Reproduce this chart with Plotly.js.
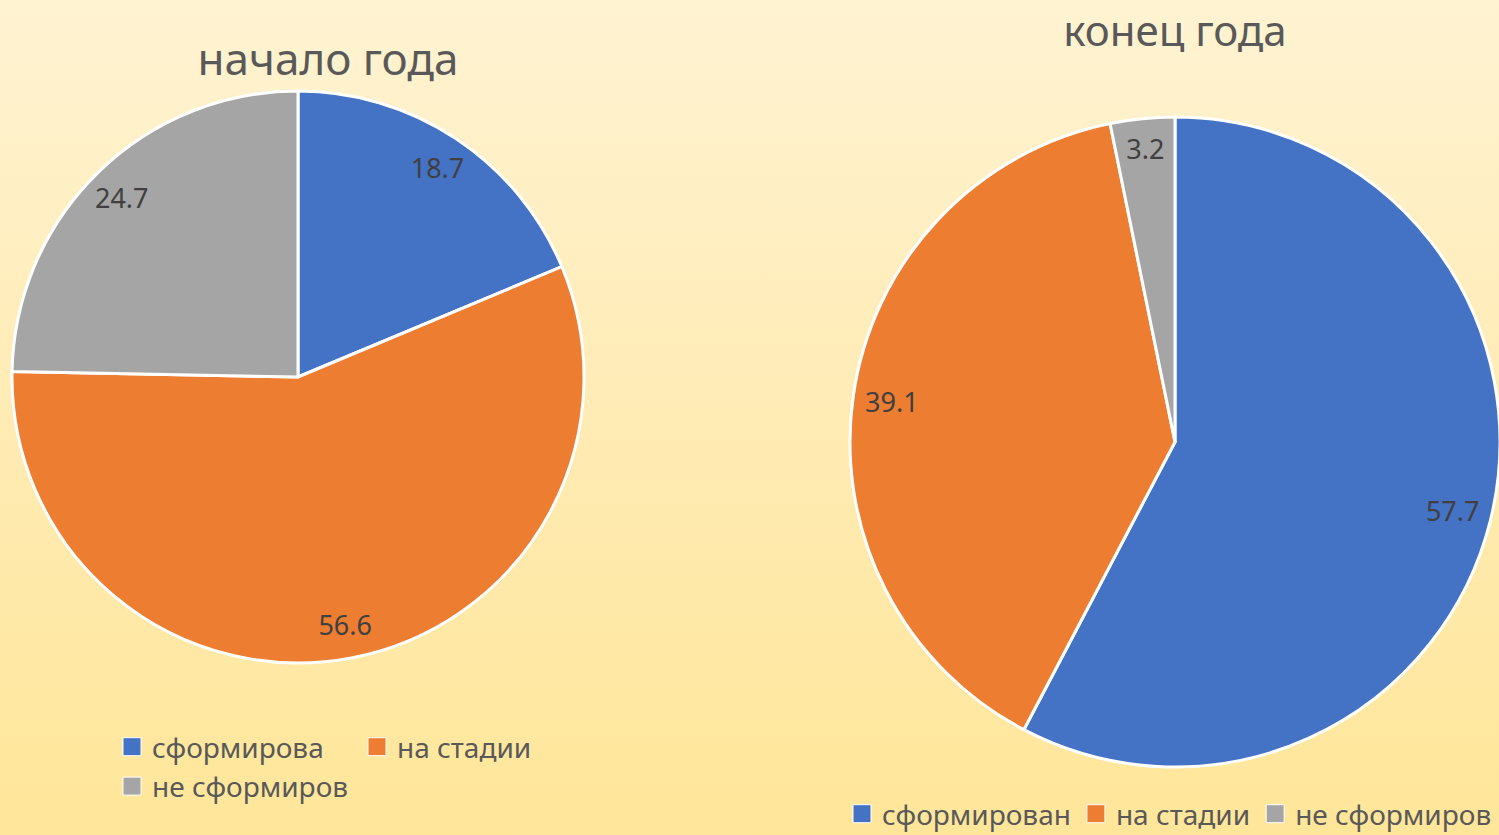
<!DOCTYPE html>
<html><head><meta charset="utf-8">
<script src="https://cdn.plot.ly/plotly-3.0.1.min.js"></script>
<style>
html,body{margin:0;padding:0;width:1499px;height:835px;overflow:hidden;}
body{background:linear-gradient(to bottom,#FFF3D2 0%,#FFEBB4 50%,#FFE699 100%);position:relative;}
#left{position:absolute;left:0;top:0;width:700px;height:835px;}
#right{position:absolute;left:745px;top:0;width:760px;height:870px;}
</style></head>
<body>
<div id="left"></div><div id="right"></div>
<script>
const labelsStart = ["сформирова", "на стадии", "не сформиров"];
const valuesStart = [18.7, 56.6, 24.7];
const labelsEnd = ["сформирован", "на стадии", "не сформиров"];
const valuesEnd = [57.7, 39.1, 3.2];
const colors = ["#4472C4", "#ED7D31", "#A5A5A5"];
const titleStart = "начало года";
const titleEnd = "конец года";

const FONT = "Noto Sans, DejaVu Sans, sans-serif";

function pieTraces(labels, values, dom) {
  return [
    {
      type: "pie", labels: labels, values: values, sort: false,
      direction: "clockwise", rotation: 0, domain: dom,
      marker: {colors: colors, line: {color: "#FFFFFF", width: 3}},
      textinfo: "none", hoverinfo: "label+value", showlegend: true
    },
    {
      type: "pie", labels: labels, values: values, sort: false,
      direction: "clockwise", rotation: 0, domain: dom, hole: 0.76,
      marker: {colors: ["rgba(0,0,0,0)","rgba(0,0,0,0)","rgba(0,0,0,0)"], line: {width: 0}},
      textinfo: "value", textposition: "inside", insidetextorientation: "horizontal",
      insidetextfont: {family: FONT, size: 27, color: "#404040"},
      hoverinfo: "skip", showlegend: false
    }
  ];
}

const W1 = 700, H1 = 835, W2 = 760, H2 = 870, X2 = 745;

const layoutL = {
  width: W1, height: H1, margin: {l:0, r:0, t:0, b:0},
  paper_bgcolor: "rgba(0,0,0,0)", plot_bgcolor: "rgba(0,0,0,0)",
  font: {family: FONT, color: "#595959"},
  title: {text: titleStart, x: 328/W1, xanchor: "center", y: 1 - 60/H1, yanchor: "middle",
          font: {family: FONT, size: 44, color: "#595959"}},
  showlegend: true,
  legend: {orientation: "h", x: 112/W1, xanchor: "left", y: 1 - 722/H1, yanchor: "top",
           entrywidth: 200, entrywidthmode: "pixels", itemwidth: 30,
           font: {family: FONT, size: 28, color: "#595959"}, bgcolor: "rgba(0,0,0,0)",
           traceorder: "normal"}
};
const layoutR = {
  width: W2, height: H2, margin: {l:0, r:0, t:0, b:0},
  paper_bgcolor: "rgba(0,0,0,0)", plot_bgcolor: "rgba(0,0,0,0)",
  font: {family: FONT, color: "#595959"},
  title: {text: titleEnd, x: (1175 - X2)/W2, xanchor: "center", y: 1 - 31/H2, yanchor: "middle",
          font: {family: FONT, size: 42, color: "#595959"}},
  showlegend: true,
  legend: {orientation: "h", x: (842 - X2)/W2, xanchor: "left", y: 1 - 789/H2, yanchor: "top",
           itemwidth: 30,
           font: {family: FONT, size: 28, color: "#595959"}, bgcolor: "rgba(0,0,0,0)",
           traceorder: "normal"}
};

const domL = {x: [12/W1, 584/W1], y: [1 - 663/H1, 1 - 91/H1]};
const domR = {x: [(850 - X2)/W2, (1500 - X2)/W2], y: [1 - 767/H2, 1 - 117/H2]};

function bigSymbols(gd) {
  gd.querySelectorAll(".legend .legendpoints path").forEach(p => {
    p.setAttribute("d", "M9,9H-9V-9H9Z");
    p.style.strokeWidth = "1px";
  });
}

const cfg = {displayModeBar: false, staticPlot: true};
Plotly.newPlot("left", pieTraces(labelsStart, valuesStart, domL), layoutL, cfg).then(bigSymbols);
Plotly.newPlot("right", pieTraces(labelsEnd, valuesEnd, domR), layoutR, cfg).then(bigSymbols);
</script>
</body></html>
